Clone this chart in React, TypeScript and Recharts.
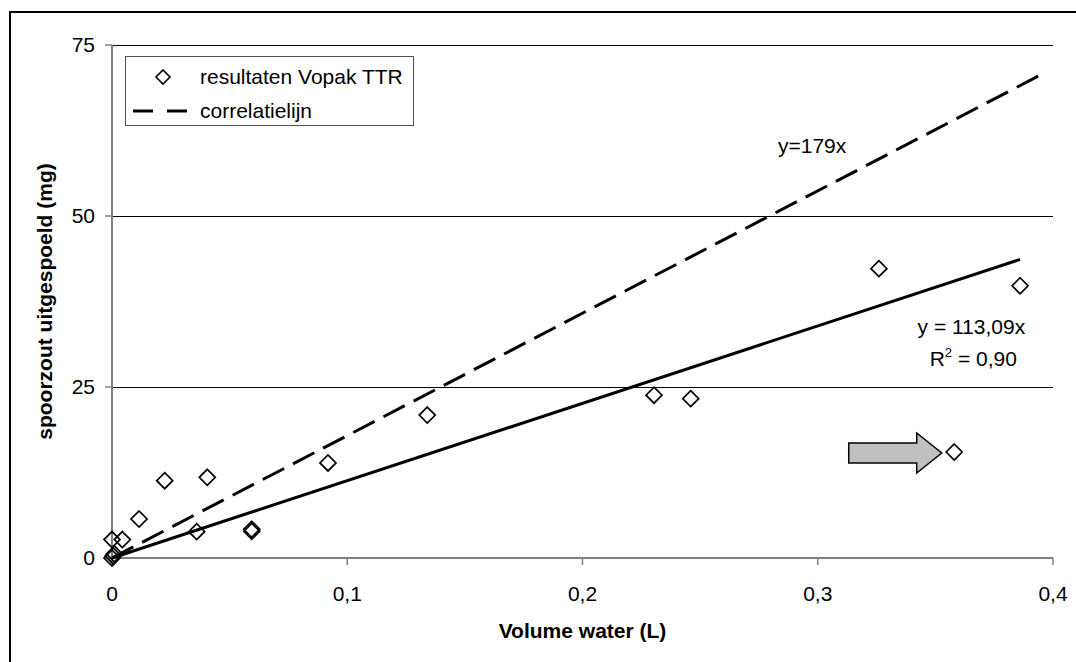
import React from 'react';
import { ScatterChart, Scatter, XAxis, YAxis, CartesianGrid, Legend, ReferenceDot, Label } from 'recharts';

const FONT = '"Liberation Sans", Arial, sans-serif';

// Measurements (resultaten Vopak TTR)
const volumeWater = [0, 0.0005, 0.001, 0, 0.0044, 0.0115, 0.0224, 0.036, 0.0405, 0.0594, 0.0594, 0.0918, 0.134, 0.2304, 0.246, 0.326, 0.358, 0.386];
const spoorzoutMg = [0, 0.3, 0.6, 2.7, 2.7, 5.7, 11.3, 3.85, 11.8, 4.2, 3.9, 13.9, 20.9, 23.8, 23.3, 42.3, 15.5, 39.8];

// Trend line y = 113,09x (end points)
const trendX = [0, 0.386];
const trendY = [0, 43.65];

// Correlatielijn y = 179x (end points)
const correlatieX = [0, 0.394];
const correlatieY = [0, 70.5];

const xTicks = [0, 0.1, 0.2, 0.3, 0.4];
const yTicks = [0, 25, 50, 75];

// Annotation anchors (data coordinates)
const label179 = { x: 0.2831, y: 59.2, text: 'y=179x' };
const labelTrend = { x: 0.3653, y: 32.7, text: 'y = 113,09x' };
const labelR2 = { x: 0.3661, y: 28.1, text: ' = 0,90' };
const arrowTip = { x: 0.3527, y: 15.35 };

const points = volumeWater.map((x, i) => ({ x, y: spoorzoutMg[i] }));
const trendData = trendX.map((x, i) => ({ x, y: trendY[i] }));
const correlatieData = correlatieX.map((x, i) => ({ x, y: correlatieY[i] }));

const Diamond = (props: any) => {
  const { cx, cy } = props;
  if (cx == null || cy == null) return <g />;
  const r = 8;
  return (
    <polygon
      points={`${cx},${cy - r} ${cx + r},${cy} ${cx},${cy + r} ${cx - r},${cy}`}
      fill="none"
      stroke="#000"
      strokeWidth={1.7}
    />
  );
};

const NoShape = () => <g />;

const renderLegend = () => (
  <div
    style={{
      display: 'inline-block',
      border: '1px solid #505050',
      background: '#fff',
      fontFamily: FONT,
      fontSize: 21,
      color: '#000',
      boxSizing: 'border-box',
      height: 70,
      paddingRight: 10,
      paddingTop: 3,
      whiteSpace: 'nowrap',
    }}
  >
    <div style={{ display: 'flex', alignItems: 'center', height: 34 }}>
      <svg width={74} height={34} style={{ display: 'block' }}>
        <polygon points="37,10 44,17 37,24 30,17" fill="none" stroke="#000" strokeWidth={1.6} />
      </svg>
      <span>resultaten Vopak TTR</span>
    </div>
    <div style={{ display: 'flex', alignItems: 'center', height: 34 }}>
      <svg width={74} height={34} style={{ display: 'block' }}>
        <line x1={7} y1={17} x2={62} y2={17} stroke="#000" strokeWidth={3} strokeDasharray="20 14" />
      </svg>
      <span>correlatielijn</span>
    </div>
  </div>
);

export default function App() {
  return (
    <div style={{ position: 'absolute', left: 0, top: 0, width: 1076, height: 662, overflow: 'hidden', background: '#fff' }}>
      <div
        style={{
          position: 'absolute',
          left: 9,
          top: 11,
          width: 1200,
          height: 800,
          borderLeft: '2px solid #000',
          borderTop: '2px solid #000',
          boxSizing: 'border-box',
        }}
      />
      <div style={{ position: 'absolute', left: 0, top: 0 }}>
        <ScatterChart width={1076} height={662} margin={{ top: 45, right: 23, bottom: 0, left: 0 }}>
          <CartesianGrid horizontal={true} vertical={false} stroke="#000" strokeWidth={1} shapeRendering="crispEdges" />
          <XAxis
            type="number"
            dataKey="x"
            domain={[0, 0.4]}
            ticks={xTicks}
            height={104}
            tickSize={7}
            tickMargin={21}
            axisLine={{ stroke: '#808080', strokeWidth: 2 }}
            tickLine={{ stroke: '#808080', strokeWidth: 1.5 }}
            tick={{ fill: '#000', fontSize: 21, fontFamily: FONT }}
            tickFormatter={(v: number) => String(v).replace('.', ',')}
          >
            <Label
              value="Volume water (L)"
              position="insideBottom"
              offset={24}
              style={{ fontWeight: 'bold', fontSize: 21, fill: '#000', fontFamily: FONT }}
            />
          </XAxis>
          <YAxis
            type="number"
            dataKey="y"
            domain={[0, 75]}
            ticks={yTicks}
            width={112}
            tickSize={7}
            tickMargin={10}
            axisLine={{ stroke: '#808080', strokeWidth: 2 }}
            tickLine={{ stroke: '#808080', strokeWidth: 1.5 }}
            tick={{ fill: '#000', fontSize: 21, fontFamily: FONT }}
          >
            <Label
              value="spoorzout uitgespoeld (mg)"
              angle={-90}
              position="insideLeft"
              offset={45}
              style={{ fontWeight: 'bold', fontSize: 21, fill: '#000', fontFamily: FONT, textAnchor: 'middle' }}
            />
          </YAxis>
          <Legend
            layout="vertical"
            align="center"
            verticalAlign="middle"
            content={renderLegend}
            wrapperStyle={{ left: 125, top: 56, width: 'auto', height: 'auto' }}
          />
          <Scatter
            name="trend"
            data={trendData}
            shape={NoShape}
            line={{ stroke: '#000', strokeWidth: 3 }}
            legendType="none"
            isAnimationActive={false}
          />
          <Scatter
            name="correlatielijn"
            data={correlatieData}
            shape={NoShape}
            line={{ stroke: '#000', strokeWidth: 3, strokeDasharray: '24 10' }}
            legendType="none"
            isAnimationActive={false}
          />
          <Scatter
            name="resultaten Vopak TTR"
            data={points}
            shape={Diamond}
            isAnimationActive={false}
          />
          <ReferenceDot
            x={label179.x}
            y={label179.y}
            r={0}
            shape={(p: any) => (
              <text x={p.cx} y={p.cy} fontSize={21} fontFamily={FONT} fill="#000" textAnchor="start">
                {label179.text}
              </text>
            )}
          />
          <ReferenceDot
            x={labelTrend.x}
            y={labelTrend.y}
            r={0}
            shape={(p: any) => (
              <text x={p.cx} y={p.cy} fontSize={21} fontFamily={FONT} fill="#000" textAnchor="middle">
                {labelTrend.text}
              </text>
            )}
          />
          <ReferenceDot
            x={labelR2.x}
            y={labelR2.y}
            r={0}
            shape={(p: any) => (
              <text x={p.cx} y={p.cy} fontSize={21} fontFamily={FONT} fill="#000" textAnchor="middle">
                <tspan>R</tspan>
                <tspan dy={-9} fontSize={13}>2</tspan>
                <tspan dy={9}>{labelR2.text}</tspan>
              </text>
            )}
          />
          <ReferenceDot
            x={arrowTip.x}
            y={arrowTip.y}
            r={0}
            shape={(p: any) => {
              const { cx, cy } = p;
              const pts = [
                [cx - 93, cy - 10],
                [cx - 25, cy - 10],
                [cx - 25, cy - 20],
                [cx, cy],
                [cx - 25, cy + 20],
                [cx - 25, cy + 10],
                [cx - 93, cy + 10],
              ]
                .map((q) => q.join(','))
                .join(' ');
              return <polygon points={pts} fill="#c0c0c0" stroke="#000" strokeWidth={1.5} />;
            }}
          />
        </ScatterChart>
      </div>
    </div>
  );
}
